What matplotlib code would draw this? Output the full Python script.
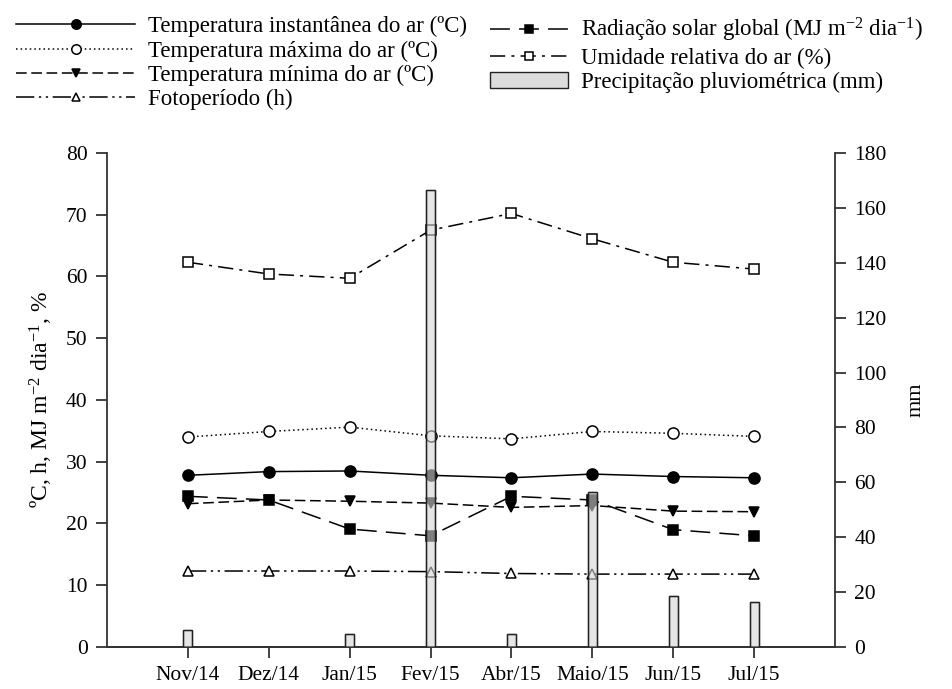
import matplotlib
matplotlib.use("Agg")
import matplotlib.pyplot as plt
from matplotlib.lines import Line2D
from matplotlib.patches import Patch

plt.rcParams['font.family'] = ['Liberation Serif', 'DejaVu Serif']
plt.rcParams['mathtext.fontset'] = 'custom'
plt.rcParams['mathtext.rm'] = 'Liberation Serif'
plt.rcParams['mathtext.it'] = 'Liberation Serif:italic'

months = ["Nov/14", "Dez/14", "Jan/15", "Fev/15", "Abr/15", "Maio/15", "Jun/15", "Jul/15"]

temp_inst = [27.8, 28.4, 28.5, 27.8, 27.4, 28.0, 27.6, 27.4]
temp_max = [34.0, 34.9, 35.6, 34.2, 33.7, 34.9, 34.6, 34.1]
temp_min = [23.2, 23.8, 23.6, 23.3, 22.6, 22.9, 22.0, 21.9]
fotoperiodo = [12.3, 12.3, 12.3, 12.2, 11.9, 11.8, 11.8, 11.8]
radiacao = [24.4, 23.8, 19.1, 18.0, 24.4, 23.8, 19.0, 18.0]
umidade = [62.3, 60.4, 59.7, 67.5, 70.2, 66.1, 62.3, 61.2]
precipitacao = [6.2, 0.0, 4.7, 166.5, 4.7, 56.5, 18.6, 16.5]

x = list(range(len(months)))

fig = plt.figure(figsize=(9.53, 6.89), dpi=100)
ax = fig.add_axes([107 / 953, 0.061, 728 / 953, 0.717])
ax2 = ax.twinx()

lw = 1.1
styles = {
    "inst": dict(ls='-', marker='o', mfc='black', mec='black'),
    "max": dict(ls=(0, (1, 2)), marker='o', mfc='white', mec='black'),
    "min": dict(ls=(0, (7, 3)), marker='v', mfc='black', mec='black'),
    "foto": dict(ls=(0, (12, 3, 1.5, 3, 1.5, 3)), marker='^', mfc='white', mec='black'),
    "rad": dict(ls=(0, (13, 6)), marker='s', mfc='black', mec='black'),
    "umid": dict(ls=(0, (10, 4, 2, 4)), marker='s', mfc='white', mec='black'),
}
ms_map = {"inst": 8, "max": 8, "min": 7.5, "foto": 7.5, "rad": 7, "umid": 6.5}

series = [
    ("inst", temp_inst, "Temperatura instantânea do ar (ºC)"),
    ("max", temp_max, "Temperatura máxima do ar (ºC)"),
    ("min", temp_min, "Temperatura mínima do ar (ºC)"),
    ("foto", fotoperiodo, "Fotoperíodo (h)"),
    ("rad", radiacao, "Radiação solar global (MJ m$^{-2}$ dia$^{-1}$)"),
    ("umid", umidade, "Umidade relativa do ar (%)"),
]

handles = {}
for key, vals, label in series:
    st = styles[key]
    ax.plot(x, vals, color='black', lw=lw, ms=ms_map[key], mew=1.1, **st)
    handles[key] = Line2D([], [], color='black', lw=lw, ms=ms_map[key] * 0.85,
                          mew=1.1, **st)

bar_face = '#d4d4d4'
ax2.bar(x, precipitacao, width=0.11, color=bar_face, alpha=0.6,
        edgecolor='#222222', linewidth=1.0, zorder=3)
ax2.bar(x, precipitacao, width=0.11, fill=False,
        edgecolor='#222222', linewidth=1.0, zorder=4)

ax.set_xlim(-1, 8)
ax.set_ylim(0, 80)
ax2.set_ylim(0, 180)
ax.set_yticks(range(0, 81, 10))
ax2.set_yticks(range(0, 181, 20))
ax.set_xticks(x)
ax.set_xticklabels(months)

for a in (ax, ax2):
    a.spines['top'].set_visible(False)
    a.tick_params(labelsize=15.5, length=8, width=1.2, direction='out', color='#222222')
    for s in a.spines.values():
        s.set_linewidth(1.3)
        s.set_color('#333333')
ax2.spines['left'].set_visible(False)
ax.spines['right'].set_visible(False)
ax.tick_params(axis='x', pad=6)
ax.tick_params(axis='y', pad=6)
ax2.tick_params(axis='y', pad=6)

ax.set_ylabel("ºC, h, MJ m$^{-2}$ dia$^{-1}$, %", fontsize=17, labelpad=8)
ax2.set_ylabel("mm", fontsize=16, labelpad=14)

left_h = [handles["inst"], handles["max"], handles["min"], handles["foto"]]
left_l = [s[2] for s in series[:4]]
right_h = [handles["rad"], handles["umid"],
           Patch(facecolor='#dcdcdc', edgecolor='#222222', linewidth=1.0)]
right_l = [series[4][2], series[5][2], "Precipitação pluviométrica (mm)"]

fig.legend(left_h, left_l, loc='upper left', bbox_to_anchor=(0.0, 1.0),
           frameon=False, fontsize=16.5, handlelength=5.2, handletextpad=0.55,
           labelspacing=0.14, borderaxespad=0.3)
fig.legend(right_h, right_l, loc='upper left', bbox_to_anchor=(0.497, 1.0),
           frameon=False, fontsize=16.5, handlelength=3.4, handletextpad=0.6,
           labelspacing=0.14, borderaxespad=0.3)

fig.savefig("out.png", dpi=100)
